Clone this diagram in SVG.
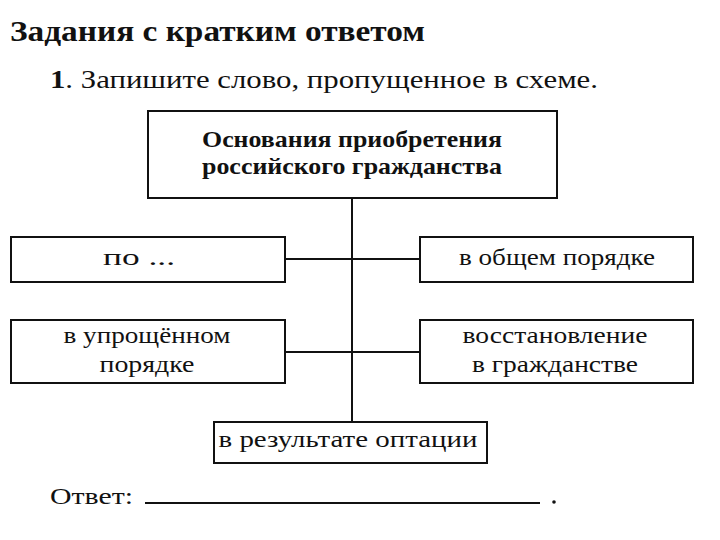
<svg xmlns="http://www.w3.org/2000/svg" width="720" height="540" viewBox="0 0 720 540">
<style>
.box{fill:#fff;stroke:#111;stroke-width:2}
.t{font-family:"Liberation Serif","DejaVu Serif",serif;fill:#111;font-size:23px;text-anchor:middle}
.b{font-weight:bold;font-size:23px}
.ln{stroke:#111;stroke-width:2;fill:none}
</style>
<rect width="720" height="540" fill="#fff"/>
<text x="10" y="41" font-family="Liberation Serif, DejaVu Serif, serif" font-weight="bold" font-size="30" fill="#111" textLength="415" lengthAdjust="spacingAndGlyphs">Задания с кратким ответом</text>
<text x="50" y="88" font-family="Liberation Serif, DejaVu Serif, serif" font-size="25" fill="#111" textLength="548" lengthAdjust="spacingAndGlyphs"><tspan font-weight="bold">1</tspan>. Запишите слово, пропущенное в схеме.</text>
<g id="connectors">
<line class="ln" x1="352" y1="198" x2="352" y2="422"/>
<line class="ln" x1="285" y1="259" x2="420" y2="259"/>
<line class="ln" x1="285" y1="352" x2="420" y2="352"/>
</g>
<g id="root">
<rect class="box" x="148" y="111" width="409" height="87"/>
<text class="t b" x="352" y="147" textLength="300" lengthAdjust="spacingAndGlyphs">Основания приобретения</text>
<text class="t b" x="352" y="174" textLength="300" lengthAdjust="spacingAndGlyphs">российского гражданства</text>
</g>
<g id="n1">
<rect class="box" x="11" y="237" width="274" height="45"/>
<text class="t" x="139" y="265" textLength="72" lengthAdjust="spacingAndGlyphs">по ...</text>
</g>
<g id="n2">
<rect class="box" x="420" y="237" width="273" height="45"/>
<text class="t" x="557" y="265" textLength="196" lengthAdjust="spacingAndGlyphs">в общем порядке</text>
</g>
<g id="n3">
<rect class="box" x="11" y="320" width="274" height="63"/>
<text class="t" x="147" y="343" textLength="167" lengthAdjust="spacingAndGlyphs">в упрощённом</text>
<text class="t" x="147" y="372" textLength="95" lengthAdjust="spacingAndGlyphs">порядке</text>
</g>
<g id="n4">
<rect class="box" x="420" y="320" width="273" height="63"/>
<text class="t" x="555" y="343" textLength="185" lengthAdjust="spacingAndGlyphs">восстановление</text>
<text class="t" x="555" y="372" textLength="166" lengthAdjust="spacingAndGlyphs">в гражданстве</text>
</g>
<g id="n5">
<rect class="box" x="214" y="422" width="273" height="41"/>
<text class="t" x="348" y="447" textLength="259" lengthAdjust="spacingAndGlyphs">в результате оптации</text>
</g>
<text x="50" y="504" font-family="Liberation Serif, DejaVu Serif, serif" font-size="24" fill="#111" textLength="83" lengthAdjust="spacingAndGlyphs">Ответ:</text>
<line class="ln" x1="145" y1="503" x2="540" y2="503" stroke-width="1.5"/>
<circle cx="554" cy="502" r="1.8" fill="#111"/>
</svg>
